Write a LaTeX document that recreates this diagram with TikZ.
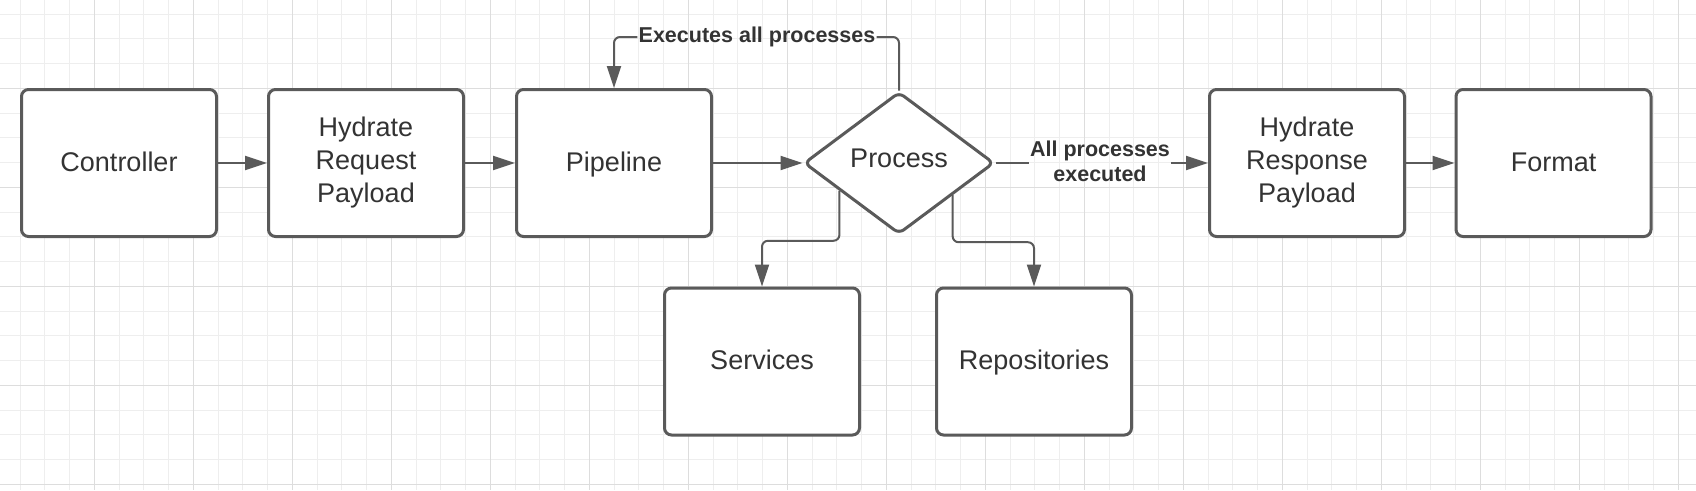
\documentclass[tikz,border=0pt]{standalone}
\usepackage{fontspec}
\setmainfont{Liberation Sans}
\usepackage{tikz}
\usetikzlibrary{shapes.geometric,arrows.meta}
\definecolor{edgegray}{HTML}{5A5A5A}
\definecolor{inkgray}{HTML}{333333}
\definecolor{gridminor}{HTML}{EEEEEE}
\definecolor{gridmajor}{HTML}{DDDDDD}

\begin{document}
\begin{tikzpicture}[x=1pt, y=-1pt,
			box/.style = {shape=rectangle, draw=edgegray, line width=3pt,
				rounded corners=7pt, fill=white, align=center, text=inkgray,
				font=\fontsize{27}{33}\selectfont, inner sep=0pt,
				minimum width=195pt, minimum height=147pt},
			oneline/.style = {text height=22pt, text depth=6pt},
			decision/.style = {shape=diamond, draw=edgegray, line width=3pt,
				rounded corners=6pt, fill=white, text=inkgray,
				font=\fontsize{27}{33}\selectfont, inner sep=0pt,
				text height=19pt, text depth=10pt,
				minimum width=190pt, minimum height=142pt},
			lbl/.style = {text=inkgray, align=center,
				font=\bfseries\fontsize{21.5}{25}\selectfont,
				inner xsep=1pt, inner ysep=0pt},
			link/.style = {draw=edgegray, line width=2pt, rounded corners=6pt,
				-{Triangle[length=22pt, width=14pt]}}]
			\useasboundingbox[fill=white] (0,0) rectangle (1696,490);
			\foreach \gx in {20.1,44.85,...,1696}
				\draw[gridminor, line width=1pt] (\gx,0) -- (\gx,490);
			\foreach \gy in {14,38.75,...,490}
				\draw[gridminor, line width=1pt] (0,\gy) -- (1696,\gy);
			\foreach \gx in {94.35,193.35,...,1696}
				\draw[gridmajor, line width=1pt] (\gx,0) -- (\gx,490);
			\foreach \gy in {88.25,187.25,...,490}
				\draw[gridmajor, line width=1pt] (0,\gy) -- (1696,\gy);

			\node[box, oneline] (ctrl) at (119,163) {Controller};
			\node[box] (hreq) at (366,163) {Hydrate\\Request\\Payload};
			\node[box, oneline] (pipe) at (614,163) {Pipeline};
			\node[decision] (proc) at (899,163) {Process};
			\node[box] (hresp) at (1307,163) {Hydrate\\Response\\Payload};
			\node[box, oneline] (fmt) at (1553.5,163) {Format};
			\node[box, oneline] (serv) at (762,361.5) {Services};
			\node[box, oneline] (repo) at (1034,361.5) {Repositories};
			\node[lbl] (run) at (757,37) {Executes all processes};
			\node[lbl] (done) at (1100,161) {All processes\\executed};

			\draw[link] (ctrl) -- (hreq);
			\draw[link] (hreq) -- (pipe);
			\draw[link] (pipe) -- (proc);
			\draw[link] (hresp) -- (fmt);
			\draw[link, -] (proc.north) |- (run.east);
			\draw[link] (run.west) -| (pipe.north);
			\draw[link, -] (proc.east) -- (proc.east -| done.west);
			\draw[link] (proc.east -| done.east) -- (hresp.west);
			\draw[link] (proc.205) -- ++(0,50) -| (serv.north);
			\draw[link] (proc.-31) -- ++(0,47) -| (repo.north);
		\end{tikzpicture}
\end{document}
